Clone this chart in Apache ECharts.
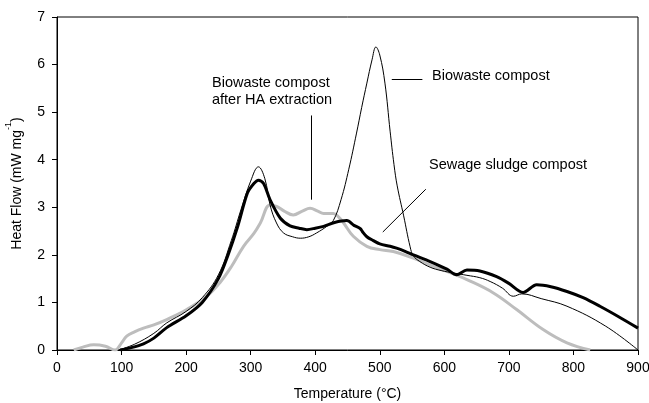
<!DOCTYPE html>
<html>
<head>
<meta charset="utf-8">
<script src="https://cdn.jsdelivr.net/npm/echarts@6/dist/echarts.min.js"></script>
<style>
html,body{margin:0;padding:0;background:#fff;}
#chart{width:649px;height:403px;}
</style>
</head>
<body>
<div id="chart"></div>
<script>
// Biowaste compost (thin black line)
const tempBio = [95,120,150,170,200,225,250,270,285,300,312,322,330,340,351,365,377,390,402,418,428,440,452,464,472,480,488,494,500,508,516,522,527,537,547,552,562,578,595,614,635,655,671,690,707,720,750,790,850,900];
const heatBio = [0,0.12,0.35,0.57,0.81,1.1,1.58,2.3,2.95,3.55,3.85,3.6,3.05,2.67,2.46,2.38,2.35,2.38,2.46,2.6,2.72,3.16,3.8,4.56,5.1,5.61,6.1,6.37,6.2,5.61,4.6,3.9,3.45,2.82,2.17,1.98,1.86,1.74,1.67,1.62,1.57,1.52,1.44,1.3,1.13,1.18,1.08,0.92,0.5,0];
// Sewage sludge compost (thick black line)
const tempSludge = [98,115,134,150,170,200,225,250,265,280,295,305,312,320,330,346,361,375,387,400,413,430,449,460,470,473,480,490,500,516,526,540,552,578,604,619,635,655,681,700,722,743,765,790,815,841,870,900];
const heatSludge = [0,0.05,0.13,0.25,0.47,0.72,1.0,1.5,2.0,2.6,3.3,3.5,3.57,3.5,3.16,2.77,2.61,2.56,2.53,2.56,2.6,2.68,2.72,2.62,2.55,2.49,2.38,2.3,2.23,2.18,2.14,2.07,2.0,1.86,1.70,1.58,1.68,1.66,1.54,1.4,1.21,1.37,1.33,1.23,1.1,0.92,0.7,0.46];
// Biowaste compost after HA extraction (grey line)
const tempHA = [26,40,57,75,90,100,108,120,134,150,170,201,232,252,270,289,305,315,330,340,352,366,380,392,404,413,428,436,444,459,480,500,521,552,583,610,635,676,712,753,790,826];
const heatHA = [0,0.06,0.11,0.08,0,0.15,0.29,0.38,0.46,0.53,0.64,0.85,1.13,1.41,1.75,2.18,2.45,2.67,3.05,3.02,2.92,2.84,2.92,2.98,2.92,2.87,2.87,2.8,2.67,2.39,2.18,2.11,2.07,1.93,1.76,1.62,1.48,1.2,0.85,0.43,0.15,0];
// axis
const xTicks = {min:0, max:900, interval:100};
const yTicks = {min:0, max:7, interval:1};

function pairs(t, h){ return t.map((v,i)=>[v,h[i]]); }

const FONT = 'Liberation Sans, Arial, sans-serif';
const chart = echarts.init(document.getElementById('chart'), null, {renderer:'canvas'});

const leader = (a,b)=>[{coord:a},{coord:b}];

chart.setOption({
  animation:false,
  backgroundColor:'#fff',
  grid:{left:57,right:11,top:17,bottom:53,containLabel:false,outerBoundsMode:'none',show:true,borderColor:'#000',borderWidth:1,backgroundColor:'transparent'},
  xAxis:{
    type:'value', min:xTicks.min, max:xTicks.max, interval:xTicks.interval,
    name:'Temperature (°C)', nameLocation:'middle', nameGap:37,
    nameTextStyle:{fontFamily:FONT,fontSize:14,color:'#000'},
    axisLine:{show:true,lineStyle:{color:'#000',width:1}},
    axisTick:{show:true,inside:false,length:5,lineStyle:{color:'#000'}},
    axisLabel:{fontFamily:FONT,fontSize:14,color:'#000',margin:11},
    splitLine:{show:false}
  },
  yAxis:{
    type:'value', min:yTicks.min, max:yTicks.max, interval:yTicks.interval,
    name:'{a|Heat Flow (mW mg}{s|-1}{a|)}', nameLocation:'middle', nameGap:33, nameRotate:90,
    nameTextStyle:{fontFamily:FONT,fontSize:14,color:'#000',
      rich:{a:{fontFamily:FONT,fontSize:14,color:'#000',lineHeight:20,verticalAlign:'bottom'},
            s:{fontFamily:FONT,fontSize:9,color:'#000',lineHeight:14,verticalAlign:'top'}}},
    axisLine:{show:true,lineStyle:{color:'#000',width:1}},
    axisTick:{show:true,inside:false,length:5,lineStyle:{color:'#000'}},
    axisLabel:{fontFamily:FONT,fontSize:14,color:'#000',margin:12},
    splitLine:{show:false}
  },
  series:[
    {name:'Biowaste compost after HA extraction', type:'line', data:pairs(tempHA,heatHA), showSymbol:false, smooth:0.4,
     lineStyle:{color:'#bdbdbd',width:3}},
    {name:'Sewage sludge compost', type:'line', data:pairs(tempSludge,heatSludge), showSymbol:false, smooth:0.3,
     lineStyle:{color:'#000',width:3}},
    {name:'Biowaste compost', type:'line', data:pairs(tempBio,heatBio), showSymbol:false, smooth:0.4,
     lineStyle:{color:'#000',width:1},
     markLine:{silent:true, symbol:['none','none'], label:{show:false}, lineStyle:{color:'#000',width:1,type:'solid'},
       data:[ leader([518.6,5.69],[566,5.69]), leader([394.5,4.93],[394.5,3.16]), leader([504.7,2.48],[571.3,3.38]) ]}}
  ],
  graphic:[
    {type:'text', left:432, top:68, style:{text:'Biowaste compost', font:'14.5px '+FONT, fill:'#000'}},
    {type:'text', left:429, top:157, style:{text:'Sewage sludge compost', font:'14.5px '+FONT, fill:'#000'}},
    {type:'text', left:212, top:74, style:{text:'Biowaste compost\nafter HA extraction', font:'14.5px '+FONT, fill:'#000', lineHeight:17.5}}
  ]
});
</script>
</body>
</html>
